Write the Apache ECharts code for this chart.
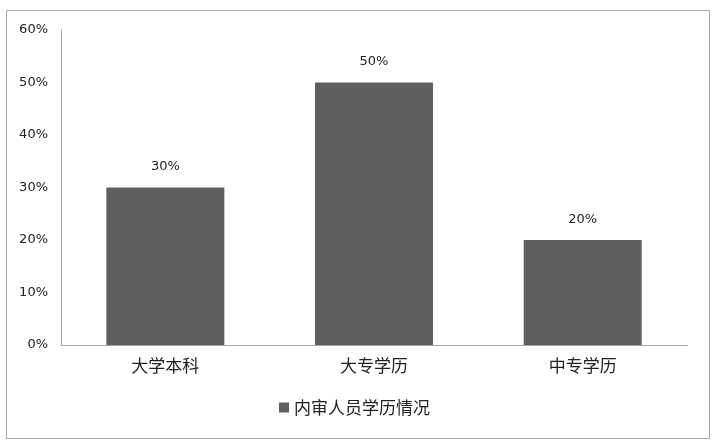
<!DOCTYPE html>
<html><head><meta charset="utf-8">
<script src="https://cdn.jsdelivr.net/npm/echarts@6/dist/echarts.min.js"></script>
<style>html,body{margin:0;padding:0;background:#fff}#c{width:716px;height:445px}</style>
</head><body><div id="c"></div>
<script>
const categories = ['大学本科', '大专学历', '中专学历'];
const values = [30, 50, 20];
const seriesName = '内审人员学历情况';
const yTicks = [0, 10, 20, 30, 40, 50, 60];

const chart = echarts.init(document.getElementById('c'));
chart.setOption({
  animation: false,
  graphic: [{
    type: 'rect', left: 4, top: 8,
    shape: { width: 703, height: 428 },
    style: { fill: 'none', stroke: '#a6a6a6', lineWidth: 1 }
  }],
  grid: { left: 61, right: 29, top: 30, bottom: 100, containLabel: false },
  legend: {
    bottom: 24, left: 274,
    itemWidth: 10, itemHeight: 10, icon: 'rect', itemGap: 8,
    textStyle: { fontSize: 17, color: '#222', fontFamily: 'Noto Sans CJK SC' },
    data: [seriesName]
  },
  xAxis: {
    type: 'category', data: categories,
    axisLine: { lineStyle: { color: '#a6a6a6' } },
    axisTick: { show: false },
    axisLabel: { fontSize: 17, color: '#222', margin: 12, fontFamily: 'Noto Sans CJK SC' }
  },
  yAxis: {
    type: 'value', min: yTicks[0], max: yTicks[yTicks.length - 1], interval: 10,
    axisLine: { show: true, lineStyle: { color: '#a6a6a6' } },
    axisTick: { show: false },
    splitLine: { show: false },
    axisLabel: { formatter: '{value}%', fontSize: 13, color: '#222', margin: 13, fontFamily: 'DejaVu Sans' }
  },
  series: [{
    name: seriesName, type: 'bar', data: values,
    barWidth: 118,
    itemStyle: { color: '#5f5f5f' },
    label: { show: true, position: 'top', formatter: '{c}%', fontSize: 13, color: '#222', distance: 14, fontFamily: 'DejaVu Sans' }
  }]
});
</script></body></html>
